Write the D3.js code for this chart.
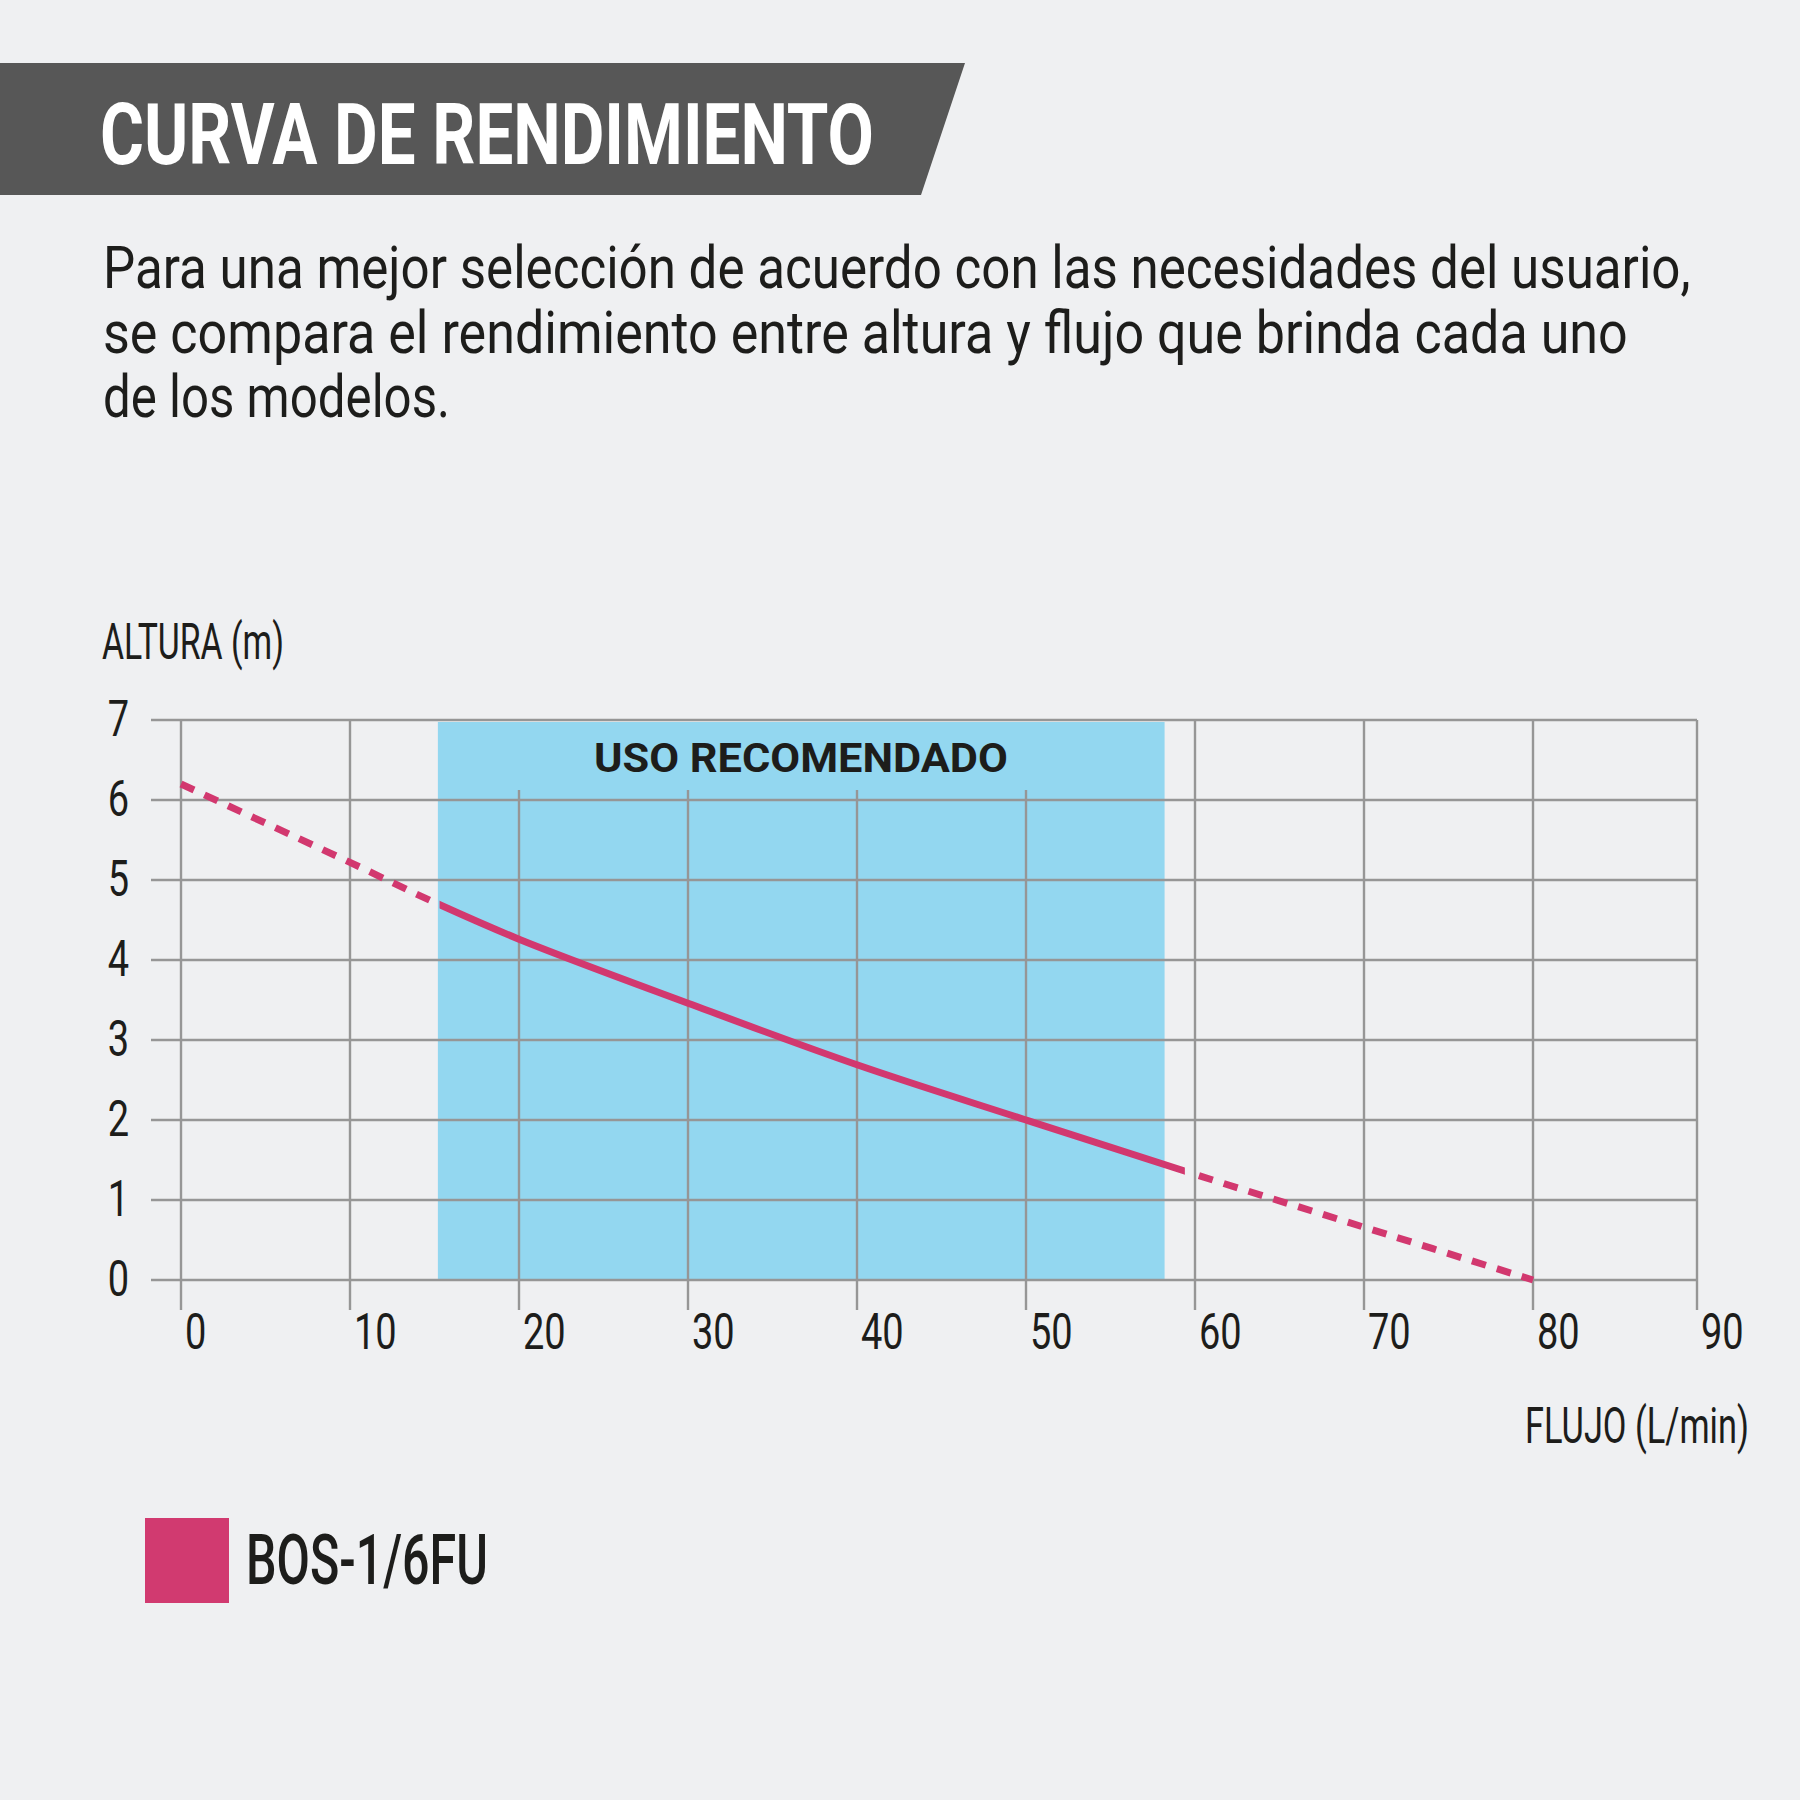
<!DOCTYPE html>
<html>
<head>
<meta charset="utf-8">
<script src="https://cdn.jsdelivr.net/npm/d3@7"></script>
<style>
  html, body { margin: 0; padding: 0; background: #eff0f2; }
  svg { display: block; }
  text { font-family: "Liberation Sans Narrow", Roboto, "DejaVu Sans Condensed", sans-serif; fill: #1d1d1b; }
</style>
</head>
<body>
<div id="chart"></div>
<script>
// data
const flow = [0, 10, 15, 20, 30, 40, 50, 60, 70, 80];          // L/min
const head = [6.2, 5.22, 4.72, 4.26, 3.46, 2.69, 2.0, 1.32, 0.66, 0]; // m
const xTicks = [0, 10, 20, 30, 40, 50, 60, 70, 80, 90];
const yTicks = [0, 1, 2, 3, 4, 5, 6, 7];
const recommended = [15.2, 58.2];
const solidPart = [15.3, 59.4];
const modelName = 'BOS-1/6FU';
const title = 'CURVA DE RENDIMIENTO';
const intro = [
    'Para una mejor selección de acuerdo con las necesidades del usuario,',
    'se compara el rendimiento entre altura y flujo que brinda cada uno',
    'de los modelos.'
];
const introWidths = [1588, 1525, 347];

const W = 1800, H = 1800;
const pink = '#d2386f';
const gridColor = '#969696';

const svg = d3.select('#chart').append('svg')
    .attr('width', W)
    .attr('height', H);

svg.append('rect').attr('width', W).attr('height', H).attr('fill', '#eff0f2');

// place a text at (x, y) and squeeze it horizontally to a measured width
function fitText(parent, str, x, y, w, size, weight) {
    const t = parent.append('text')
        .attr('font-size', size)
        .attr('font-weight', weight || 400)
        .text(str);
    const k = w / t.node().getComputedTextLength();
    t.attr('transform', `translate(${x},${y}) scale(${k},1)`);
    return t;
}

// title band
svg.append('path')
    .attr('d', 'M0,63 L965,63 L921,195 L0,195 Z')
    .attr('fill', '#575757');

fitText(svg, title, 100, 164, 774, 86, 700).style('fill', '#fff');

intro.forEach((line, i) => {
    fitText(svg, line, 103, 288 + i * 64.5, introWidths[i], 60);
});

// scales (the reference's last column is a little narrower)
const x = d3.scaleLinear().domain([0, 80, 90]).range([181, 1533, 1697]);
const y = d3.scaleLinear().domain([0, 7]).range([1280, 720]);

const plot = svg.append('g');

// recommended band
plot.append('rect')
    .attr('x', x(recommended[0]))
    .attr('y', y(7) + 2)
    .attr('width', x(recommended[1]) - x(recommended[0]))
    .attr('height', y(0) - y(7) - 2)
    .attr('fill', '#93d7f0');

// horizontal grid
plot.selectAll('line.h')
    .data(yTicks)
    .enter().append('line')
    .attr('class', 'h')
    .attr('x1', 151)
    .attr('x2', x(90))
    .attr('y1', d => y(d))
    .attr('y2', d => y(d))
    .attr('stroke', gridColor)
    .attr('stroke-width', 2.4);

// vertical grid, shortened inside the band to leave room for its label
const inBand = d => d > recommended[0] && d < recommended[1];
plot.selectAll('line.v')
    .data(xTicks)
    .enter().append('line')
    .attr('class', 'v')
    .attr('x1', d => x(d))
    .attr('x2', d => x(d))
    .attr('y1', d => inBand(d) ? y(7) + 70 : y(7))
    .attr('y2', y(0) + 30)
    .attr('stroke', gridColor)
    .attr('stroke-width', 2.4);

fitText(plot, 'USO RECOMENDADO', 594, 772, 414, 41, 700);

// tick labels, squeezed to the condensed look
const k = 0.76;

plot.selectAll('text.ytick')
    .data(yTicks)
    .enter().append('text')
    .attr('class', 'ytick')
    .attr('transform', d => `translate(129,${y(d) + 16}) scale(${k},1)`)
    .attr('text-anchor', 'end')
    .attr('font-size', 50)
    .text(d => d);

plot.selectAll('text.xtick')
    .data(xTicks)
    .enter().append('text')
    .attr('class', 'xtick')
    .attr('transform', d => `translate(${x(d) + 4},1349) scale(${k},1)`)
    .attr('font-size', 50)
    .text(d => d);

fitText(plot, 'ALTURA (m)', 102, 659, 182, 50);
fitText(plot, 'FLUJO (L/min)', 1525, 1443, 224, 50);

// performance curve: dashed outside the tested range, solid inside
const pts = flow.map((f, i) => [f, head[i]]);
const line = d3.line()
    .x(d => x(d[0]))
    .y(d => y(d[1]))
    .curve(d3.curveCatmullRom.alpha(0.5));

const defs = svg.append('defs');
function clip(id, a, b) {
    defs.append('clipPath').attr('id', id)
        .append('rect')
        .attr('x', a).attr('y', 0)
        .attr('width', b - a).attr('height', H);
}
clip('c-left', 0, x(14.9));
clip('c-mid', x(solidPart[0]), x(solidPart[1]));
clip('c-right', x(59.9), W);

['c-left', 'c-right'].forEach(id => {
    plot.append('path')
        .attr('d', line(pts))
        .attr('clip-path', `url(#${id})`)
        .attr('fill', 'none')
        .attr('stroke', pink)
        .attr('stroke-width', 7)
        .attr('stroke-dasharray', '14.5 11.5');
});

plot.append('path')
    .attr('d', line(pts))
    .attr('clip-path', 'url(#c-mid)')
    .attr('fill', 'none')
    .attr('stroke', pink)
    .attr('stroke-width', 7);

// legend
const legend = svg.append('g');
legend.append('rect')
    .attr('x', 145).attr('y', 1518)
    .attr('width', 84).attr('height', 85)
    .attr('fill', '#d13a70');
fitText(legend, modelName, 246, 1584, 242, 70, 500);
</script>
</body>
</html>
